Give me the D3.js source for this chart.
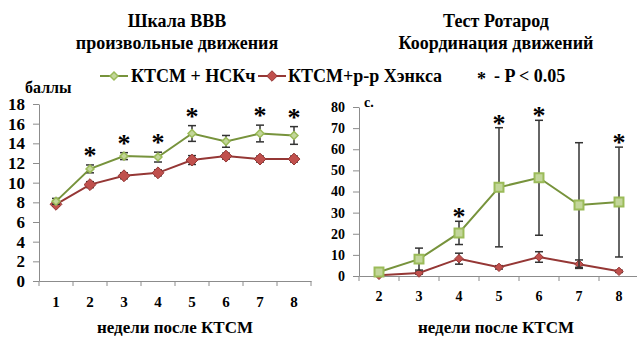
<!DOCTYPE html>
<html>
<head>
<meta charset="utf-8">
<script src="https://cdn.jsdelivr.net/npm/d3@7"></script>
<style>
  body { margin: 0; background: #fff; }
  text { font-family: "Liberation Serif", "Times New Roman", serif; font-weight: bold; fill: #000; }
</style>
</head>
<body>
<div id="chart"></div>
<script>
// left panel: BBB scale
const bbbWeeks = [1, 2, 3, 4, 5, 6, 7, 8];
const bbbNsc = [8.1, 11.4, 12.7, 12.6, 15.0, 14.2, 15.0, 14.8];
const bbbNscErr = [0.3, 0.4, 0.35, 0.5, 0.8, 0.6, 0.85, 0.9];
const bbbHanks = [7.8, 9.8, 10.7, 11.0, 12.3, 12.7, 12.4, 12.4];
const bbbHanksErr = [0.2, 0.3, 0.3, 0.3, 0.45, 0.3, 0.3, 0.3];
const bbbSignif = [2, 3, 4, 5, 7, 8];
const bbbTicks = [0, 2, 4, 6, 8, 10, 12, 14, 16, 18];

// right panel: rotarod
const rotWeeks = [2, 3, 4, 5, 6, 7, 8];
const rotNsc = [1.9, 8.0, 20.4, 42.0, 46.5, 33.6, 35.0];
const rotNscErr = [1.0, 5.2, 5.5, 28.2, 27.2, 29.5, 26.0];
const rotHanks = [0.3, 1.4, 8.2, 4.1, 9.0, 5.6, 2.2];
const rotHanksErr = [0.3, 0.5, 2.6, 0.8, 2.5, 2.0, 0.5];
const rotSignif = [4, 5, 6, 8];
const rotTicks = [0, 10, 20, 30, 40, 50, 60, 70, 80];

const W = 637, H = 339;
const GREEN_LINE = "#77933c", GREEN_FILL = "#9bbb59", GREEN_LIGHT = "#c3d69b";
const RED_LINE = "#953735", RED_FILL = "#c0504d";
const AXIS = "#8c8c8c";

const svg = d3.select("#chart").append("svg")
  .attr("width", W)
  .attr("height", H);

// titles
const titles = [
  { x: 177, lines: ["Шкала ВВВ", "произвольные движения"] },
  { x: 496, lines: ["Тест Ротарод", "Координация движений"] }
];
titles.forEach(t => {
  t.lines.forEach((s, i) => {
    svg.append("text")
      .attr("x", t.x)
      .attr("y", 27 + i * 22)
      .attr("text-anchor", "middle")
      .style("font-size", "18px")
      .text(s);
  });
});

// legend
const legend = svg.append("g");
legend.append("line").attr("x1", 100).attr("x2", 128).attr("y1", 76).attr("y2", 76)
  .attr("stroke", GREEN_LINE).attr("stroke-width", 2);
legend.append("path").attr("d", d3.symbol(d3.symbolDiamond2, 40)())
  .attr("transform", "translate(114,76)")
  .attr("fill", GREEN_LIGHT).attr("stroke", GREEN_FILL).attr("stroke-width", 1.5);
legend.append("text").attr("x", 131).attr("y", 82).style("font-size", "18px").text("КТСМ + НСКч");
legend.append("line").attr("x1", 258).attr("x2", 286).attr("y1", 76).attr("y2", 76)
  .attr("stroke", RED_LINE).attr("stroke-width", 2);
legend.append("path").attr("d", d3.symbol(d3.symbolDiamond2, 70)())
  .attr("transform", "translate(272,76)")
  .attr("fill", RED_FILL).attr("stroke", RED_LINE).attr("stroke-width", 1);
legend.append("text").attr("x", 288).attr("y", 82).style("font-size", "18px").text("КТСМ+р-р Хэнкса");
legend.append("text").attr("x", 477).attr("y", 85).style("font-size", "18px").text("*");
legend.append("text").attr("x", 494).attr("y", 82).style("font-size", "18px").text("- P < 0.05");

function panel(opt) {
  const g = svg.append("g");

  const x = d3.scaleBand().domain(opt.weeks).range(opt.xRange);
  const y = d3.scaleLinear().domain([0, opt.yMax]).range(opt.yRange);
  const cx = d => x(d) + x.bandwidth() / 2;

  // axes
  const yAxis = g.append("g")
    .attr("transform", `translate(${opt.xRange[0]},0)`)
    .call(d3.axisLeft(y).tickValues(opt.ticks).tickSize(6).tickSizeOuter(0).tickPadding(opt.yPad));
  const xAxis = g.append("g")
    .attr("transform", `translate(0,${opt.yRange[0]})`)
    .call(d3.axisBottom(x).tickSize(0).tickSizeOuter(0).tickPadding(opt.xPad));
  [yAxis, xAxis].forEach(a => {
    a.select(".domain").attr("stroke", AXIS);
    a.selectAll(".tick line").attr("stroke", AXIS);
    a.selectAll("text")
      .style("font-family", '"Liberation Serif", "Times New Roman", serif')
      .style("font-weight", "bold")
      .attr("fill", "#000");
  });
  yAxis.selectAll("text").style("font-size", opt.yFont);
  xAxis.selectAll("text").style("font-size", opt.xFont);

  // tick marks between bands on the x axis
  g.selectAll(".band-tick")
    .data(opt.weeks.concat(["end"]))
    .enter().append("line")
    .attr("x1", (d, i) => opt.xRange[0] + i * x.bandwidth())
    .attr("x2", (d, i) => opt.xRange[0] + i * x.bandwidth())
    .attr("y1", opt.yRange[0])
    .attr("y2", opt.yRange[0] + 5)
    .attr("stroke", AXIS);

  // axis titles
  g.append("text")
    .attr("x", opt.unitX).attr("y", opt.unitY)
    .style("font-size", opt.unitFont)
    .text(opt.unit);
  g.append("text")
    .attr("x", (opt.xRange[0] + opt.xRange[1]) / 2 + opt.titleShift)
    .attr("y", 333)
    .attr("text-anchor", "middle")
    .style("font-size", "17px")
    .text("недели после КТСМ");

  const series = [
    { vals: opt.hanks, err: opt.hanksErr, line: RED_LINE, fill: RED_FILL, stroke: RED_LINE, sym: opt.hanksSym },
    { vals: opt.nsc, err: opt.nscErr, line: GREEN_LINE, fill: GREEN_LIGHT, stroke: GREEN_FILL, sym: opt.nscSym }
  ];

  series.forEach(s => {
    const pts = opt.weeks.map((w, i) => ({ w, v: s.vals[i], e: s.err[i] }));

    // error bars
    const eb = g.append("g");
    pts.forEach(p => {
      const top = y(p.v + p.e), bot = y(Math.max(0, p.v - p.e));
      eb.append("line").attr("x1", cx(p.w)).attr("x2", cx(p.w)).attr("y1", top).attr("y2", bot)
        .attr("stroke", "#333").attr("stroke-width", 1.5);
      [top, bot].forEach(yy => {
        eb.append("line").attr("x1", cx(p.w) - 4).attr("x2", cx(p.w) + 4).attr("y1", yy).attr("y2", yy)
          .attr("stroke", "#333").attr("stroke-width", 1.5);
      });
    });

    g.append("path")
      .datum(pts)
      .attr("fill", "none")
      .attr("stroke", s.line)
      .attr("stroke-width", 2)
      .attr("d", d3.line().x(d => cx(d.w)).y(d => y(d.v)));

    g.selectAll(null)
      .data(pts)
      .enter().append("path")
      .attr("d", d3.symbol(s.sym.type, s.sym.size)())
      .attr("transform", d => `translate(${cx(d.w)},${y(d.v)})`)
      .attr("fill", s.fill)
      .attr("stroke", s.stroke)
      .attr("stroke-width", s.sym.sw);
  });

  // significance asterisks
  g.selectAll(null)
    .data(opt.signif)
    .enter().append("text")
    .attr("x", d => cx(d))
    .attr("y", d => {
      const i = opt.weeks.indexOf(d);
      return y(opt.nsc[i] + opt.nscErr[i]) - opt.starOffset + 11;
    })
    .attr("text-anchor", "middle")
    .style("font-size", "26px")
    .text("*");
}

panel({
  weeks: bbbWeeks, nsc: bbbNsc, nscErr: bbbNscErr, hanks: bbbHanks, hanksErr: bbbHanksErr,
  signif: bbbSignif, ticks: bbbTicks, yMax: 18,
  xRange: [39, 311], yRange: [281, 104],
  yPad: 8, xPad: 15, yFont: "17px", xFont: "15px",
  unit: "баллы", unitX: 25, unitY: 93, unitFont: "16px", titleShift: 0,
  nscSym: { type: d3.symbolDiamond2, size: 40, sw: 1.5 },
  hanksSym: { type: d3.symbolDiamond2, size: 90, sw: 1 },
  starOffset: 12
});

panel({
  weeks: rotWeeks, nsc: rotNsc, nscErr: rotNscErr, hanks: rotHanks, hanksErr: rotHanksErr,
  signif: rotSignif, ticks: rotTicks, yMax: 80,
  xRange: [359, 639], yRange: [276, 107],
  yPad: 8, xPad: 15, yFont: "14px", xFont: "14px",
  unit: "с.", unitX: 364, unitY: 107, unitFont: "14px", titleShift: -3,
  nscSym: { type: d3.symbolSquare, size: 80, sw: 2 },
  hanksSym: { type: d3.symbolDiamond2, size: 45, sw: 1 },
  starOffset: 7
});
</script>
</body>
</html>
